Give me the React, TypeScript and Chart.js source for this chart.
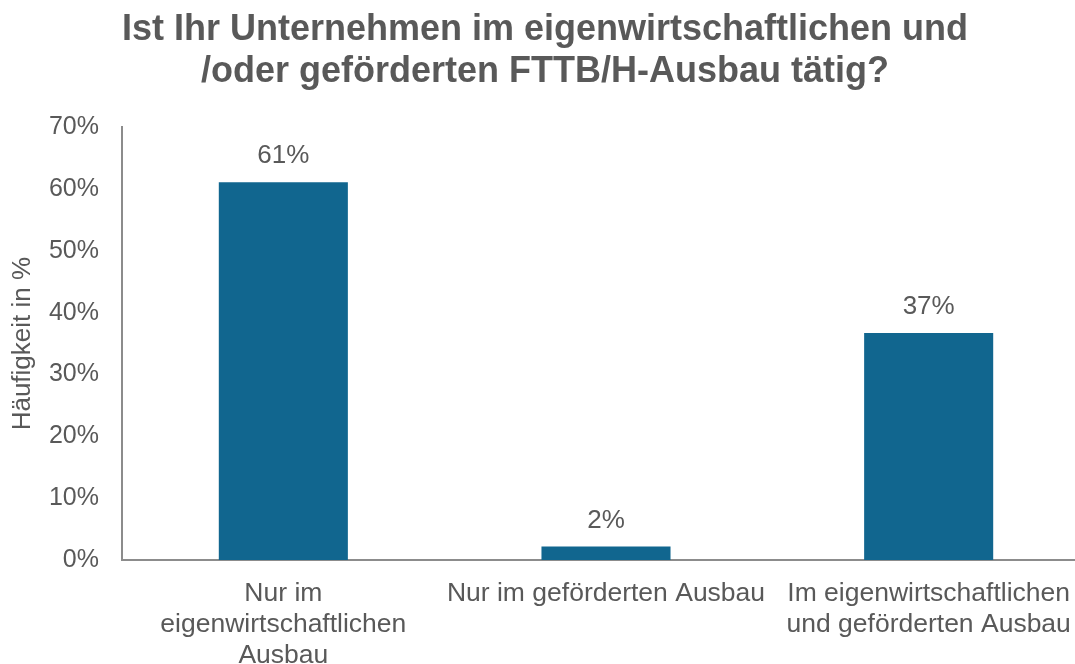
import React, { useEffect, useRef } from "react";
import { Chart, registerables } from "chart.js";

Chart.register(...registerables);

const titleLines = [
  "Ist Ihr Unternehmen im eigenwirtschaftlichen und",
  "/oder geförderten FTTB/H-Ausbau tätig?",
];
const categories: (string | string[])[] = [
  ["Nur im", "eigenwirtschaftlichen", "Ausbau"],
  "Nur im geförderten Ausbau",
  ["Im eigenwirtschaftlichen", "und geförderten Ausbau"],
];
const values = [61.1, 2.2, 36.7];
const yAxisTitle = "Häufigkeit in %";
const yMin = 0;
const yMax = 70;
const yStep = 10;

const FONT = "'Liberation Sans', Arial, sans-serif";
const GRAY = "#595959";
const BAR = "#11668f";

const dataLabelPlugin = {
  id: "dataLabels",
  afterDatasetsDraw(chart: any) {
    const ctx = chart.ctx;
    const meta = chart.getDatasetMeta(0);
    ctx.save();
    ctx.font = `26px ${FONT}`;
    ctx.fillStyle = GRAY;
    ctx.textAlign = "center";
    ctx.textBaseline = "middle";
    meta.data.forEach((el: any, i: number) => {
      const v = chart.data.datasets[0].data[i] as number;
      ctx.fillText(`${Math.round(v)}%`, el.x, el.y - 26);
    });
    ctx.restore();
  },
};

export default function App() {
  const ref = useRef<HTMLCanvasElement | null>(null);
  useEffect(() => {
    if (!ref.current) return;
    const chart = new Chart(ref.current, {
      type: "bar",
      data: {
        labels: categories,
        datasets: [
          {
            data: values,
            backgroundColor: BAR,
            borderWidth: 0,
            barPercentage: 0.4,
            categoryPercentage: 1,
          },
        ],
      },
      options: {
        responsive: false,
        animation: false,
        layout: { padding: 0 },
        plugins: {
          legend: { display: false },
          tooltip: { enabled: false },
          title: {
            display: true,
            text: titleLines,
            color: GRAY,
            font: { family: FONT, size: 36, weight: "bold", lineHeight: 1.17 },
            padding: { top: 9, bottom: 34 },
          },
        },
        scales: {
          x: {
            grid: { display: false, drawTicks: false, tickLength: 0 },
            border: { display: true, color: "#8c8c8c", width: 2 },
            ticks: {
              color: GRAY,
              font: { family: FONT, size: 26.5, lineHeight: 1.17 },
              padding: 18,
              maxRotation: 0,
              autoSkip: false,
            },
            afterFit: (scale: any) => {
              scale.height = 104;
            },
          },
          y: {
            min: yMin,
            max: yMax,
            grid: { display: false, drawTicks: false, tickLength: 0 },
            border: { display: true, color: "#8c8c8c", width: 2 },
            ticks: {
              stepSize: yStep,
              color: GRAY,
              font: { family: FONT, size: 25 },
              padding: 23,
              callback: (v: any) => `${v}%`,
            },
            title: {
              display: true,
              text: yAxisTitle,
              color: GRAY,
              font: { family: FONT, size: 26, lineHeight: 1.2 },
              padding: { top: 7, bottom: 0 },
            },
            afterFit: (scale: any) => {
              scale.width = 122;
            },
          },
        },
      },
      plugins: [dataLabelPlugin],
    });
    return () => chart.destroy();
  }, []);
  return (
    <div
      style={{
        position: "fixed",
        left: 0,
        top: 0,
        width: 1075,
        height: 664,
        overflow: "hidden",
        background: "#fff",
      }}
    >
      <canvas ref={ref} width={1090} height={664} style={{ display: "block" }} />
    </div>
  );
}
